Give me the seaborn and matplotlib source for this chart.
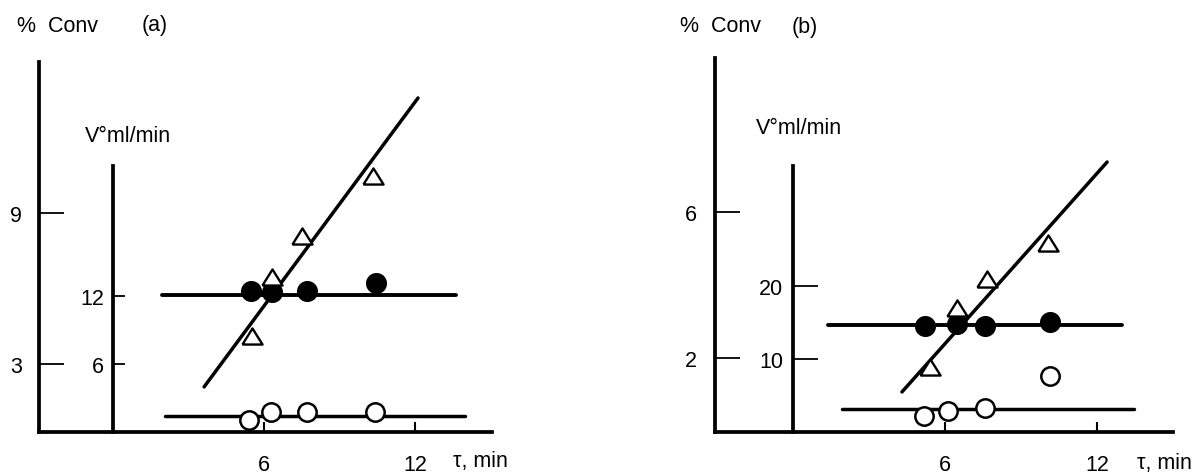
import matplotlib
matplotlib.use("Agg")
import matplotlib.pyplot as plt
import seaborn as sns

# ---------------- data: panel (a) ----------------
a_tri_tau = [5.52, 6.32, 7.51, 10.33]
a_tri_conv = [4.11, 6.46, 8.09, 10.47]
a_tri_fit_tau = [3.62, 12.12]
a_tri_fit_conv = [2.09, 13.57]
a_fill_tau = [5.48, 6.32, 7.71, 10.45]
a_fill_v = [12.44, 12.36, 12.44, 13.15]
a_fill_fit_tau = [1.95, 13.63]
a_fill_fit_v = [12.09, 12.09]
a_open_tau = [5.40, 6.28, 7.71, 10.41]
a_open_v = [1.06, 1.77, 1.77, 1.77]
a_open_fit_tau = [2.07, 13.99]
a_open_fit_v = [1.41, 1.41]

# ---------------- data: panel (b) ----------------
b_tri_tau = [5.41, 6.47, 7.66, 10.07]
b_tri_conv = [1.75, 3.37, 4.16, 5.15]
b_tri_fit_tau = [4.30, 12.40]
b_tri_fit_conv = [1.07, 7.37]
b_fill_tau = [5.21, 6.47, 7.58, 10.15]
b_fill_v = [14.52, 14.79, 14.52, 15.07]
b_fill_fit_tau = [1.38, 12.99]
b_fill_fit_v = [14.66, 14.66]
b_open_tau = [5.17, 6.12, 7.58, 10.15]
b_open_v = [2.19, 2.88, 3.29, 7.67]
b_open_fit_tau = [1.93, 13.46]
b_open_fit_v = [3.15, 3.15]

# ---------------- tick labels ----------------
tau_ticks = [6, 12]
a_v_ticks = [6, 12]
a_conv_ticks = [3, 9]
b_v_ticks = [10, 20]
b_conv_ticks = [2, 6]

sns.set_style("white")
plt.rcParams['font.family'] = ['Liberation Sans', 'DejaVu Sans']
plt.rcParams['font.size'] = 15

FS = 15.5
W, H = 1202, 477
fig = plt.figure(figsize=(W / 100, H / 100), dpi=100)

TRI = [(-1, -0.8), (1, -0.8), (0, 0.8), (-1, -0.8)]


def px_rect(l, r, b, t):
    return [l / W, 1 - b / H, (r - l) / W, (b - t) / H]


def panel(rect, xlim, vlim, convlim, vtop, tri_tau, tri_conv, tri_fit_tau, tri_fit_conv,
          fill_tau, fill_v, fill_fit_tau, fill_fit_v, open_tau, open_v,
          open_fit_tau, open_fit_v, v_ticks, conv_ticks, v_ticklen, v_pad, conv_pad):
    ax = fig.add_axes(rect)
    ax.set_xlim(*xlim)
    ax.set_ylim(*vlim)
    ax2 = ax.twinx()
    ax2.set_ylim(*convlim)
    ax.patch.set_alpha(0)
    ax2.patch.set_alpha(0)

    lw = 2.5
    # fit lines
    sns.lineplot(x=fill_fit_tau, y=fill_fit_v, ax=ax, color='black', lw=lw + 0.3)
    sns.lineplot(x=open_fit_tau, y=open_fit_v, ax=ax, color='black', lw=lw)
    sns.lineplot(x=tri_fit_tau, y=tri_fit_conv, ax=ax2, color='black', lw=lw)
    # markers
    sns.scatterplot(x=fill_tau, y=fill_v, ax=ax, marker='o', s=230,
                    color='black', edgecolor='black', linewidth=0, zorder=5)
    sns.scatterplot(x=open_tau, y=open_v, ax=ax, marker='o', s=175,
                    facecolor='white', edgecolor='black', linewidth=1.8, zorder=5)
    sns.scatterplot(x=tri_tau, y=tri_conv, ax=ax2, marker=TRI, s=210,
                    facecolor='white', edgecolor='black', linewidth=1.7, zorder=5)

    # spines
    for sp in ['top', 'right']:
        ax.spines[sp].set_visible(False)
    for sp in ['top', 'right', 'bottom']:
        ax2.spines[sp].set_visible(False)
    ax.spines['left'].set_position(('data', 0))
    ax.spines['left'].set_bounds(0, vtop)
    for s in [ax.spines['left'], ax.spines['bottom'], ax2.spines['left']]:
        s.set_visible(True)
        s.set_color('black')
        s.set_linewidth(2.7)

    # inner axis ticks (V)
    ax.set_yticks(v_ticks)
    ax.set_yticklabels([str(t) for t in v_ticks])
    ax.tick_params(axis='y', direction='in', length=v_ticklen, width=1.3,
                   color='black', labelcolor='black', pad=v_pad, labelsize=FS, left=True)
    # x ticks
    ax.set_xticks(tau_ticks)
    ax.set_xticklabels([str(t) for t in tau_ticks])
    ax.tick_params(axis='x', direction='in', length=7, width=1.5,
                   color='black', labelcolor='black', pad=16, labelsize=FS, bottom=True)
    ax.set_xlabel('')
    ax.set_ylabel('')

    # outer axis ticks (% Conv)
    ax2.yaxis.tick_left()
    ax2.set_yticks(conv_ticks)
    ax2.set_yticklabels([str(t) for t in conv_ticks])
    ax2.tick_params(axis='y', direction='in', length=18, width=1.3,
                    color='black', labelcolor='black', pad=conv_pad, labelsize=FS,
                    left=True, right=False, labelleft=True, labelright=False)
    ax2.set_ylabel('')
    return ax, ax2


panel(px_rect(39, 492, 433, 63), (-2.94, 15.06), (0, 32.66), (0.298, 15.0), 23.5,
      a_tri_tau, a_tri_conv, a_tri_fit_tau, a_tri_fit_conv,
      a_fill_tau, a_fill_v, a_fill_fit_tau, a_fill_fit_v,
      a_open_tau, a_open_v, a_open_fit_tau, a_open_fit_v,
      a_v_ticks, a_conv_ticks, 8.5, 6.5, 12)

panel(px_rect(715, 1173, 433, 59), (-3.08, 15.0), (0, 51.23), (-0.027, 10.22), 36.4,
      b_tri_tau, b_tri_conv, b_tri_fit_tau, b_tri_fit_conv,
      b_fill_tau, b_fill_v, b_fill_fit_tau, b_fill_fit_v,
      b_open_tau, b_open_v, b_open_fit_tau, b_open_fit_v,
      b_v_ticks, b_conv_ticks, 18, 7, 13)


def ftext(x, y, s):
    fig.text(x / W, 1 - y / H, s, ha='left', va='center', fontsize=FS, color='black')


ftext(17, 26, '%  Conv')
ftext(142, 26, '(a)')
ftext(85, 137, 'V°ml/min')
ftext(453, 462, 'τ, min')

ftext(680, 27, '%  Conv')
ftext(792, 27, '(b)')
ftext(756, 128, 'V°ml/min')
ftext(1137, 464, 'τ, min')

fig.savefig('out.png', dpi=100, facecolor='white')
